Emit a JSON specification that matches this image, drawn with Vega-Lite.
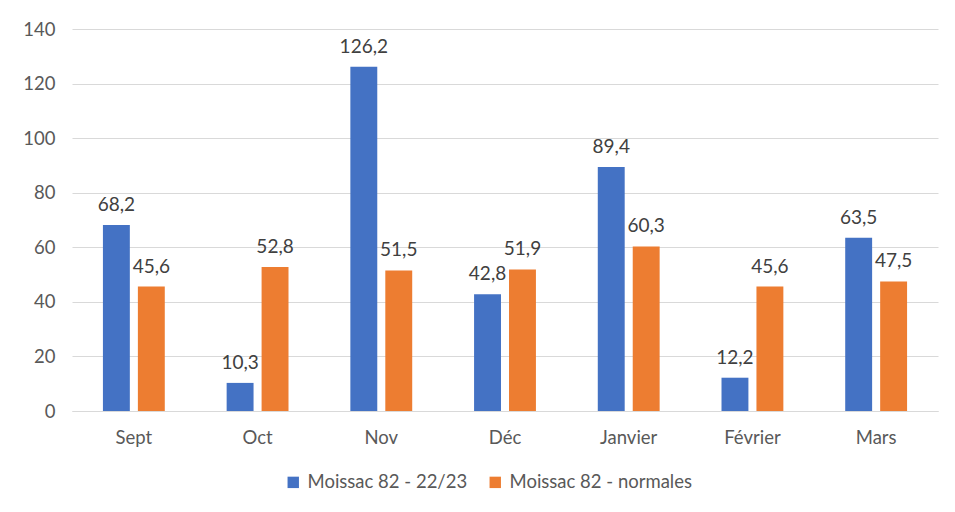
{
  "$schema": "https://vega.github.io/schema/vega-lite/v6.json",
  "width": 866,
  "height": 382,
  "autosize": {"type": "none"},
  "padding": {"left": 72, "top": 29, "right": 17, "bottom": 101},
  "background": "white",
  "data": {
    "values": [
      {"mois": "Sept", "serie": "Moissac 82 - 22/23", "pluie": 68.2},
      {"mois": "Sept", "serie": "Moissac 82 - normales", "pluie": 45.6},
      {"mois": "Oct", "serie": "Moissac 82 - 22/23", "pluie": 10.3},
      {"mois": "Oct", "serie": "Moissac 82 - normales", "pluie": 52.8},
      {"mois": "Nov", "serie": "Moissac 82 - 22/23", "pluie": 126.2},
      {"mois": "Nov", "serie": "Moissac 82 - normales", "pluie": 51.5},
      {"mois": "Déc", "serie": "Moissac 82 - 22/23", "pluie": 42.8},
      {"mois": "Déc", "serie": "Moissac 82 - normales", "pluie": 51.9},
      {"mois": "Janvier", "serie": "Moissac 82 - 22/23", "pluie": 89.4},
      {"mois": "Janvier", "serie": "Moissac 82 - normales", "pluie": 60.3},
      {"mois": "Février", "serie": "Moissac 82 - 22/23", "pluie": 12.2},
      {"mois": "Février", "serie": "Moissac 82 - normales", "pluie": 45.6},
      {"mois": "Mars", "serie": "Moissac 82 - 22/23", "pluie": 63.5},
      {"mois": "Mars", "serie": "Moissac 82 - normales", "pluie": 47.5}
    ]
  },
  "encoding": {
    "x": {
      "field": "mois", "type": "nominal", "sort": null, "title": null,
      "scale": {"paddingInner": 0.5, "paddingOuter": 0.25},
      "axis": {"labelAngle": 0, "ticks": false, "domainColor": "#d9d9d9", "labelPadding": 17, "labelFontSize": 18.5, "labelColor": "#595959"}
    },
    "xOffset": {
      "field": "serie", "type": "nominal",
      "scale": {"paddingInner": 0.23, "paddingOuter": 0}
    },
    "y": {
      "field": "pluie", "type": "quantitative", "title": null,
      "scale": {"domain": [0, 140]},
      "axis": {"values": [0, 20, 40, 60, 80, 100, 120, 140], "format": "d", "domain": false, "ticks": false, "gridColor": "#d9d9d9", "labelPadding": 17, "labelFontSize": 18.5, "labelColor": "#595959"}
    },
    "color": {
      "field": "serie", "type": "nominal", "title": null,
      "scale": {"range": ["#4472c4", "#ed7d31"]},
      "legend": {"orient": "none", "legendX": 212, "legendY": 444, "direction": "horizontal", "symbolType": "square", "symbolSize": 130, "symbolStrokeWidth": 0, "labelFontSize": 18.5, "labelColor": "#595959", "labelLimit": 400, "columnPadding": 18, "labelOffset": 5}
    }
  },
  "layer": [
    {"mark": {"type": "bar"}},
    {
      "mark": {"type": "text", "baseline": "bottom", "dy": -10, "fontSize": 19, "color": "#404040"},
      "encoding": {"text": {"field": "pluie", "type": "quantitative", "format": ".1f"}, "color": {"value": "#404040"}}
    }
  ],
  "config": {
    "font": "Lato",
    "view": {"stroke": null},
    "locale": {"number": {"decimal": ",", "thousands": " ", "grouping": [3], "currency": ["", " €"]}}
  }
}
